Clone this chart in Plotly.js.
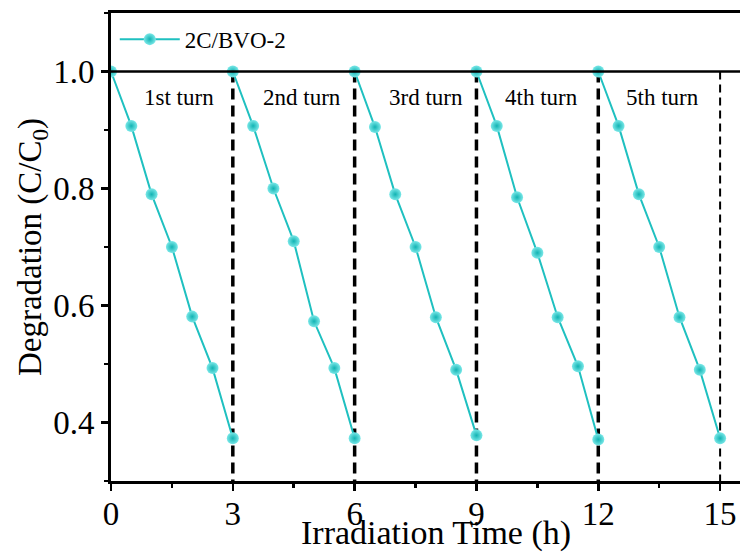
<!DOCTYPE html>
<html>
<head>
<meta charset="utf-8">
<script src="https://cdn.plot.ly/plotly-3.0.1.min.js"></script>
<style>html,body{margin:0;padding:0;background:#fff;}#chart{width:740px;height:552px;}</style>
</head>
<body>
<div id="chart"></div>
<script>
// Irradiation time (h) for each cycle
const time1 = [0, 0.5, 1, 1.5, 2, 2.5, 3];
const time2 = [3, 3.5, 4, 4.5, 5, 5.5, 6];
const time3 = [6, 6.5, 7, 7.5, 8, 8.5, 9];
const time4 = [9, 9.5, 10, 10.5, 11, 11.5, 12];
const time5 = [12, 12.5, 13, 13.5, 14, 14.5, 15];
// C/C0 for each cycle
const turn1 = [1.0, 0.907, 0.790, 0.700, 0.581, 0.493, 0.373];
const turn2 = [1.0, 0.907, 0.800, 0.710, 0.573, 0.493, 0.373];
const turn3 = [1.0, 0.905, 0.790, 0.700, 0.580, 0.490, 0.378];
const turn4 = [1.0, 0.907, 0.785, 0.690, 0.580, 0.496, 0.371];
const turn5 = [1.0, 0.907, 0.790, 0.700, 0.580, 0.490, 0.373];
const turnLabels = ["1st turn", "2nd turn", "3rd turn", "4th turn", "5th turn"];
const turnLabelX = [1.67, 4.7, 7.76, 10.6, 13.57];
const thickBoundaries = [3, 6, 9, 12];
const thinBoundaries = [15];
const seriesName = "2C/BVO-2";

const times = [time1, time2, time3, time4, time5];
const turns = [turn1, turn2, turn3, turn4, turn5];
const xs = [], ys = [];
times.forEach((t, i) => { xs.push(...t, null); ys.push(...turns[i], null); });

const FONT = "Liberation Serif, Times New Roman, serif";
const cyan = "#1fc0c0";

function vlines(b, width, dash) {
  const x = [], y = [];
  b.forEach(v => { x.push(v, v, null); y.push(1.0, 0.3, null); });
  return {x, y, mode: "lines", type: "scatter", showlegend: false, hoverinfo: "skip",
          line: {color: "#000", width: width, dash: dash}};
}

const traces = [
  vlines(thickBoundaries, 3.5, "11px,6px"),
  vlines(thinBoundaries, 2, "8px,5px"),
  {
    x: xs, y: ys, type: "scatter", mode: "lines+markers", name: seriesName,
    connectgaps: false,
    line: {color: cyan, width: 2},
    marker: {size: 12, color: "#7ae8e8", gradient: {type: "radial", color: "#12b3b3"}, line: {width: 0}}
  }
];

const annotations = turnLabels.map((t, i) => ({
  x: turnLabelX[i], y: 0.956, xref: "x", yref: "y", text: t, showarrow: false,
  font: {family: FONT, size: 23, color: "#000"}
}));
annotations.push({
  x: 0.517, y: -0.066, xref: "paper", yref: "paper", yanchor: "top",
  text: "Irradiation Time (h)", showarrow: false,
  font: {family: FONT, size: 34, color: "#000"}
});

const layout = {
  width: 740, height: 552,
  margin: {l: 111, r: 0, t: 13, b: 71},
  paper_bgcolor: "#fff", plot_bgcolor: "#fff",
  font: {family: FONT, color: "#000"},
  showlegend: true,
  legend: {x: 0.006, y: 0.99, xanchor: "left", yanchor: "top", bgcolor: "rgba(0,0,0,0)",
           itemwidth: 60,
           font: {family: FONT, size: 23, color: "#000"}},
  xaxis: {
    range: [0, 15.49], dtick: 3, tick0: 0, showgrid: false, zeroline: false,
    showline: true, linecolor: "#000", linewidth: 3, mirror: true,
    ticks: "outside", ticklen: 7, tickwidth: 2.5, tickcolor: "#000",
    ticklabelstandoff: -6,
    tickfont: {family: FONT, size: 33, color: "#000"},
    minor: {dtick: 1.5, ticks: "outside", ticklen: 4, tickwidth: 2.5, tickcolor: "#000", showgrid: false}
  },
  yaxis: {
    range: [0.3, 1.1], dtick: 0.2, tick0: 0.4, tickformat: ".1f", showgrid: false, zeroline: false,
    showline: true, linecolor: "#000", linewidth: 3, mirror: false,
    ticks: "outside", ticklen: 7, tickwidth: 2.5, tickcolor: "#000",
    tickfont: {family: FONT, size: 33, color: "#000"},
    minor: {dtick: 0.1, ticks: "outside", ticklen: 4, tickwidth: 2.5, tickcolor: "#000", showgrid: false},
    title: {text: "Degradation (C/C<sub>0</sub>)", font: {family: FONT, size: 33, color: "#000"}, standoff: 0}
  },
  shapes: [{type: "line", xref: "paper", yref: "y", x0: 0, x1: 1, y0: 1.0, y1: 1.0,
            line: {color: "#000", width: 2.5}, layer: "above"}],
  annotations: annotations
};

Plotly.newPlot("chart", traces, layout, {displayModeBar: false, staticPlot: true});
</script>
</body>
</html>
